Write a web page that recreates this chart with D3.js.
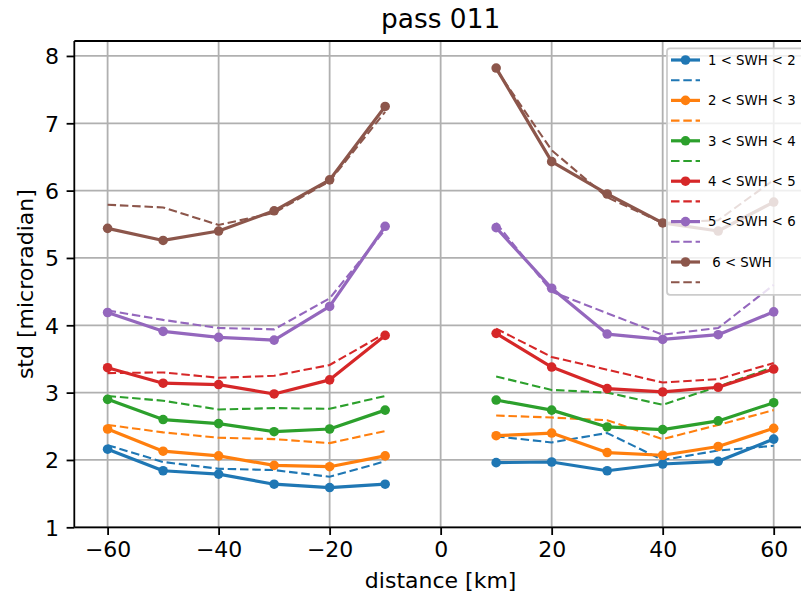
<!DOCTYPE html>
<html>
<head>
<meta charset="utf-8">
<script src="https://cdn.jsdelivr.net/npm/d3@7"></script>
<style>
  html, body { margin: 0; padding: 0; background: #ffffff; overflow: hidden; }
  svg { display: block; font-family: "DejaVu Sans", sans-serif; }
</style>
</head>
<body>
<svg id="chart" width="801" height="594"></svg>
<script>
// Cross-track distance of each sample (km); the nadir gap separates the two swaths
const distances = [-60, -50, -40, -30, -20, -10, 10, 20, 30, 40, 50, 60];

// Sea-state bins (significant wave height, m)
const binLabels = ["1 < SWH < 2", "2 < SWH < 3", "3 < SWH < 4", "4 < SWH < 5", "5 < SWH < 6", " 6 < SWH"];
const binColors = ["#1f77b4", "#ff7f0e", "#2ca02c", "#d62728", "#9467bd", "#8c564b"];

// Measured std per bin (solid) and the reference estimate per bin (dashed), microradian
const swh1Measured = [2.16, 1.84, 1.79, 1.64, 1.59, 1.64, 1.96, 1.97, 1.84, 1.94, 1.98, 2.31];
const swh1Expected = [2.22, 1.97, 1.87, 1.85, 1.75, 1.98, 2.35, 2.26, 2.40, 2.00, 2.14, 2.21];
const swh2Measured = [2.46, 2.13, 2.06, 1.92, 1.90, 2.06, 2.36, 2.40, 2.11, 2.07, 2.20, 2.47];
const swh2Expected = [2.52, 2.41, 2.33, 2.31, 2.25, 2.43, 2.66, 2.63, 2.59, 2.31, 2.52, 2.74];
const swh3Measured = [2.90, 2.60, 2.54, 2.42, 2.46, 2.74, 2.89, 2.74, 2.49, 2.45, 2.58, 2.85];
const swh3Expected = [2.95, 2.88, 2.75, 2.77, 2.76, 2.95, 3.24, 3.04, 3.00, 2.82, 3.09, 3.38];
const swh4Measured = [3.37, 3.14, 3.12, 2.98, 3.19, 3.85, 3.88, 3.38, 3.06, 3.01, 3.08, 3.35];
const swh4Expected = [3.29, 3.30, 3.22, 3.25, 3.41, 3.88, 3.95, 3.53, 3.34, 3.15, 3.20, 3.44];
const swh5Measured = [4.19, 3.91, 3.82, 3.78, 4.28, 5.47, 5.45, 4.55, 3.87, 3.79, 3.86, 4.20];
const swh5Expected = [4.22, 4.08, 3.96, 3.94, 4.40, 5.42, 5.52, 4.50, 4.18, 3.86, 3.96, 4.60];
const swh6Measured = [5.44, 5.26, 5.40, 5.70, 6.16, 7.25, 7.82, 6.43, 5.95, 5.52, 5.40, 5.83];
const swh6Expected = [5.79, 5.75, 5.49, 5.67, 6.14, 7.17, 7.80, 6.60, 5.90, 5.52, 5.56, 6.16];

const xTicks = [-60, -40, -20, 0, 20, 40, 60];
const yTicks = [1, 2, 3, 4, 5, 6, 7, 8];

const measured = [swh1Measured, swh2Measured, swh3Measured, swh4Measured, swh5Measured, swh6Measured];
const expected = [swh1Expected, swh2Expected, swh3Expected, swh4Expected, swh5Expected, swh6Expected];

const svg = d3.select("#chart");
const plot = { left: 74.3, right: 807, top: 41, bottom: 527.3 };

const x = d3.scaleLinear().domain([-66, 66]).range([plot.left, plot.right]);
const y = d3.scaleLinear().domain([1, 8.222]).range([plot.bottom, plot.top]);

// Grid
const grid = svg.append("g").attr("stroke", "#b0b0b0").attr("stroke-width", 1.8);
xTicks.forEach(t => grid.append("line")
  .attr("x1", x(t)).attr("x2", x(t)).attr("y1", plot.top).attr("y2", plot.bottom));
yTicks.forEach(t => grid.append("line")
  .attr("x1", plot.left).attr("x2", plot.right).attr("y1", y(t)).attr("y2", y(t)));

// Split each series at the nadir gap
const line = d3.line()
  .x((d, i) => x(distances[i]))
  .y(d => y(d));

function sides(values) {
  const left = values.map((v, i) => ({ v, d: distances[i] })).filter(p => p.d < 0);
  const right = values.map((v, i) => ({ v, d: distances[i] })).filter(p => p.d > 0);
  return [left, right];
}
const segLine = d3.line().x(p => x(p.d)).y(p => y(p.v));

const series = svg.append("g");
binLabels.forEach((label, k) => {
  const g = series.append("g");
  sides(measured[k]).forEach(seg => {
    g.append("path").attr("d", segLine(seg))
      .attr("fill", "none").attr("stroke", binColors[k])
      .attr("stroke-width", 3.2).attr("stroke-linejoin", "round").attr("stroke-linecap", "butt");
  });
  g.selectAll("circle").data(measured[k]).join("circle")
    .attr("cx", (d, i) => x(distances[i])).attr("cy", d => y(d))
    .attr("r", 4.8).attr("fill", binColors[k]);
  sides(expected[k]).forEach(seg => {
    g.append("path").attr("d", segLine(seg))
      .attr("fill", "none").attr("stroke", binColors[k])
      .attr("stroke-width", 2.1).attr("stroke-dasharray", "8.5,3.8");
  });
});

// Spines
const spines = svg.append("g").attr("stroke", "#000").attr("stroke-width", 1.8).attr("fill", "none");
spines.append("line").attr("x1", plot.left).attr("x2", plot.left).attr("y1", plot.top).attr("y2", plot.bottom);
spines.append("line").attr("x1", plot.left).attr("x2", plot.right).attr("y1", plot.bottom).attr("y2", plot.bottom);
spines.append("line").attr("x1", plot.left).attr("x2", plot.right).attr("y1", plot.top).attr("y2", plot.top);
spines.append("line").attr("x1", plot.right).attr("x2", plot.right).attr("y1", plot.top).attr("y2", plot.bottom);

// Axes
const xAxis = d3.axisBottom(x).tickValues(xTicks).tickSize(7.7).tickPadding(6)
  .tickFormat(d => d < 0 ? "\u2212" + Math.abs(d) : String(d));
const gx = svg.append("g").attr("transform", `translate(0,${plot.bottom})`).call(xAxis);
const yAxis = d3.axisLeft(y).tickValues(yTicks).tickSize(7.7).tickPadding(7.7).tickFormat(d3.format("d"));
const gy = svg.append("g").attr("transform", `translate(${plot.left},0)`).call(yAxis);
[gx, gy].forEach(g => {
  g.select(".domain").remove();
  g.selectAll(".tick line").attr("stroke", "#000").attr("stroke-width", 1.8);
  g.selectAll(".tick text").attr("fill", "#000").attr("font-size", 22)
    .attr("font-family", "DejaVu Sans, sans-serif");
});
gx.selectAll(".tick text").attr("dy", "0.72em");
gy.selectAll(".tick text").attr("dy", "0.36em");

// Titles
svg.append("text").attr("x", x(0)).attr("y", 28).attr("text-anchor", "middle")
  .attr("font-size", 26.4).attr("fill", "#000").text("pass 011");
svg.append("text").attr("x", x(0)).attr("y", 588).attr("text-anchor", "middle")
  .attr("font-size", 22).attr("fill", "#000").text("distance [km]");
svg.append("text").attr("transform", `translate(33,${(plot.top + plot.bottom) / 2}) rotate(-90)`)
  .attr("text-anchor", "middle").attr("font-size", 22).attr("fill", "#000").text("std [microradian]");

// Legend: one solid + one dashed entry per bin
const legend = svg.append("g");
legend.append("rect").attr("x", 667).attr("y", 48.3).attr("width", 160).attr("height", 246.5)
  .attr("rx", 3).attr("fill", "#ffffff").attr("fill-opacity", 0.8)
  .attr("stroke", "#cccccc").attr("stroke-width", 1.8);
const rowStep = 20.2;
binLabels.forEach((label, k) => {
  const ySolid = 60 + rowStep * (2 * k);
  const yDash = ySolid + rowStep;
  legend.append("line").attr("x1", 671).attr("x2", 700).attr("y1", ySolid).attr("y2", ySolid)
    .attr("stroke", binColors[k]).attr("stroke-width", 3.2);
  legend.append("circle").attr("cx", 685.5).attr("cy", ySolid).attr("r", 4.8).attr("fill", binColors[k]);
  legend.append("text").attr("x", 708).attr("y", ySolid).attr("dy", "0.36em")
    .attr("font-size", 13.3).attr("fill", "#000").style("white-space", "pre").text(label);
  legend.append("line").attr("x1", 671).attr("x2", 700).attr("y1", yDash).attr("y2", yDash)
    .attr("stroke", binColors[k]).attr("stroke-width", 2.1).attr("stroke-dasharray", "8.5,3.8");
});
</script>
</body>
</html>
